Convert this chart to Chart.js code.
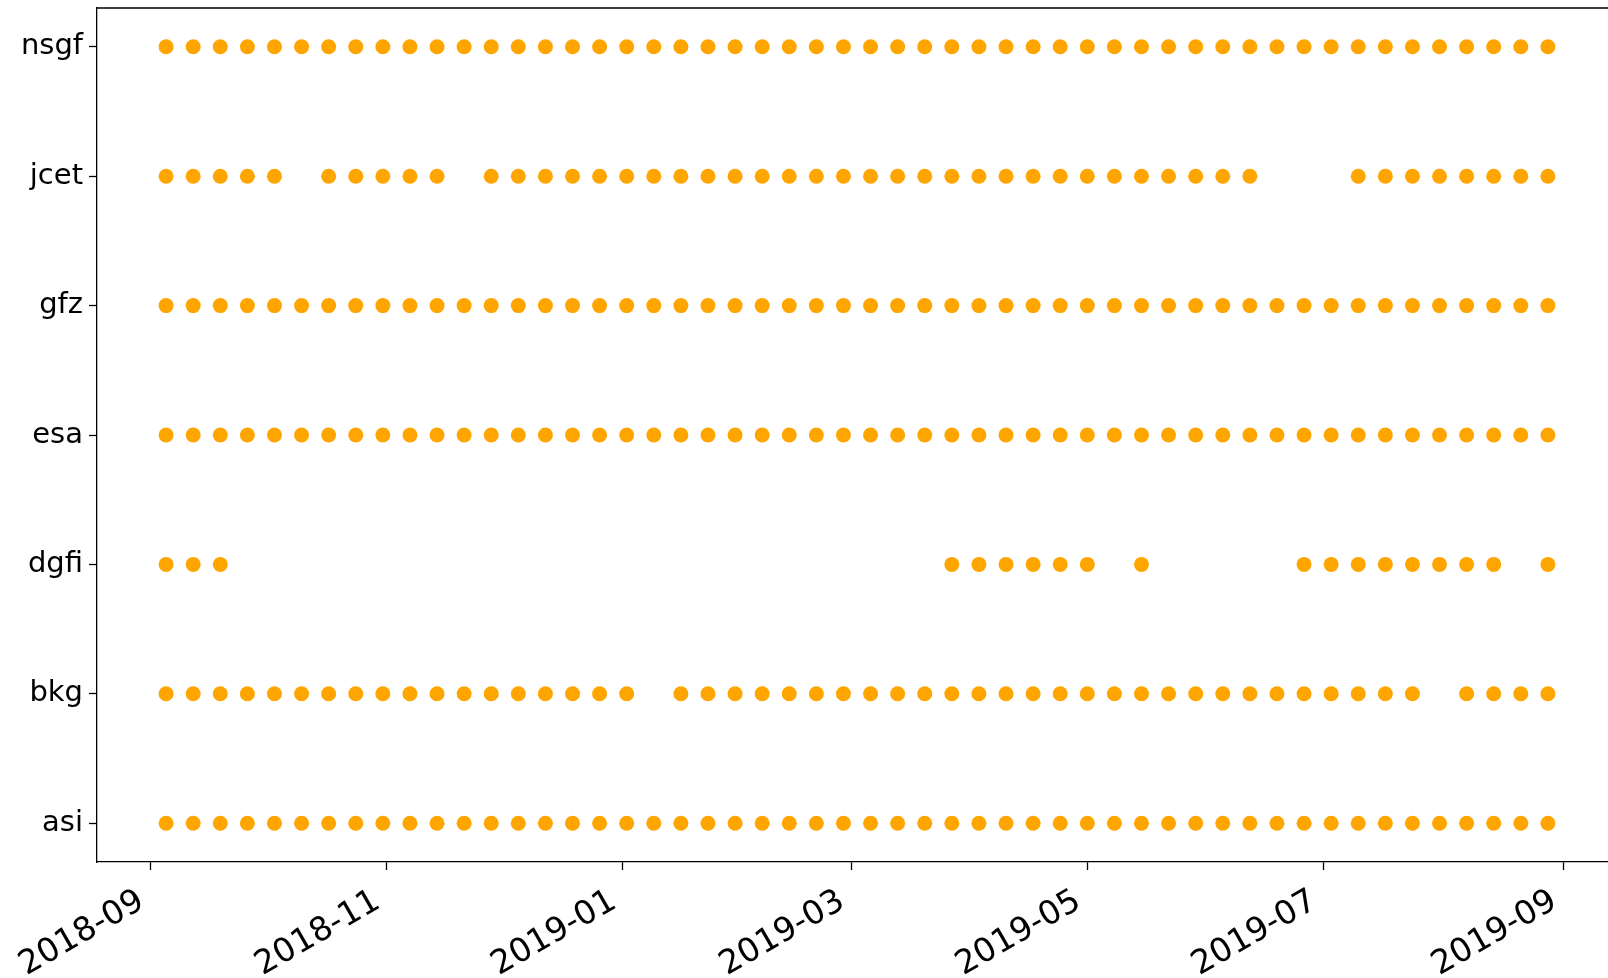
<!DOCTYPE html>
<html>
<head>
<meta charset="utf-8">
<script src="https://cdn.jsdelivr.net/npm/chart.js@4.4.0/dist/chart.umd.min.js"></script>
<style>
  html, body { margin: 0; padding: 0; background: #fff; overflow: hidden; }
  #wrap { width: 1630px; height: 978px; }
</style>
</head>
<body>
<div id="wrap"><canvas id="myChart" width="1630" height="978"></canvas></div>
<script>
// * Data
const categories = ["asi", "bkg", "dgfi", "esa", "gfz", "jcet", "nsgf"];

const weeks = [
  "2018-09-05", "2018-09-12", "2018-09-19", "2018-09-26", "2018-10-03", "2018-10-10",
  "2018-10-17", "2018-10-24", "2018-10-31", "2018-11-07", "2018-11-14", "2018-11-21",
  "2018-11-28", "2018-12-05", "2018-12-12", "2018-12-19", "2018-12-26", "2019-01-02",
  "2019-01-09", "2019-01-16", "2019-01-23", "2019-01-30", "2019-02-06", "2019-02-13",
  "2019-02-20", "2019-02-27", "2019-03-06", "2019-03-13", "2019-03-20", "2019-03-27",
  "2019-04-03", "2019-04-10", "2019-04-17", "2019-04-24", "2019-05-01", "2019-05-08",
  "2019-05-15", "2019-05-22", "2019-05-29", "2019-06-05", "2019-06-12", "2019-06-19",
  "2019-06-26", "2019-07-03", "2019-07-10", "2019-07-17", "2019-07-24", "2019-07-31",
  "2019-08-07", "2019-08-14", "2019-08-21", "2019-08-28",
];

// 1 = solution available that week
const asi  = [1,1,1,1,1,1,1,1,1,1,1,1,1,1,1,1,1,1,1,1,1,1,1,1,1,1,1,1,1,1,1,1,1,1,1,1,1,1,1,1,1,1,1,1,1,1,1,1,1,1,1,1];
const bkg  = [1,1,1,1,1,1,1,1,1,1,1,1,1,1,1,1,1,1,0,1,1,1,1,1,1,1,1,1,1,1,1,1,1,1,1,1,1,1,1,1,1,1,1,1,1,1,1,0,1,1,1,1];
const dgfi = [1,1,1,0,0,0,0,0,0,0,0,0,0,0,0,0,0,0,0,0,0,0,0,0,0,0,0,0,0,1,1,1,1,1,1,0,1,0,0,0,0,0,1,1,1,1,1,1,1,1,0,1];
const esa  = [1,1,1,1,1,1,1,1,1,1,1,1,1,1,1,1,1,1,1,1,1,1,1,1,1,1,1,1,1,1,1,1,1,1,1,1,1,1,1,1,1,1,1,1,1,1,1,1,1,1,1,1];
const gfz  = [1,1,1,1,1,1,1,1,1,1,1,1,1,1,1,1,1,1,1,1,1,1,1,1,1,1,1,1,1,1,1,1,1,1,1,1,1,1,1,1,1,1,1,1,1,1,1,1,1,1,1,1];
const jcet = [1,1,1,1,1,0,1,1,1,1,1,0,1,1,1,1,1,1,1,1,1,1,1,1,1,1,1,1,1,1,1,1,1,1,1,1,1,1,1,1,1,0,0,0,1,1,1,1,1,1,1,1];
const nsgf = [1,1,1,1,1,1,1,1,1,1,1,1,1,1,1,1,1,1,1,1,1,1,1,1,1,1,1,1,1,1,1,1,1,1,1,1,1,1,1,1,1,1,1,1,1,1,1,1,1,1,1,1];

const monthTicks = ["2018-09-01", "2018-11-01", "2019-01-01", "2019-03-01", "2019-05-01", "2019-07-01", "2019-09-01"];

// * Helpers
const DAY = 86400000;
function toDay(s) {
  return Date.parse(s + "T00:00:00Z") / DAY;
}
function dayLabel(d) {
  return new Date(d * DAY).toISOString().slice(0, 7);
}

const flags = [asi, bkg, dgfi, esa, gfz, jcet, nsgf];
const points = [];
flags.forEach((row, ci) => {
  row.forEach((f, wi) => {
    if (f) points.push({ x: toDay(weeks[wi]), y: ci });
  });
});

const firstDay = toDay(weeks[0]);
const lastDay = toDay(weeks[weeks.length - 1]);
const pad = (lastDay - firstDay) * 0.05;

// top edge of the axes box (right edge falls outside the window)
const frame = {
  id: "frame",
  afterDraw(chart) {
    const a = chart.chartArea;
    const c = chart.ctx;
    c.save();
    c.strokeStyle = "#000";
    c.lineWidth = 1.3;
    c.beginPath();
    c.moveTo(a.left, a.top);
    c.lineTo(a.right + 5, a.top);
    c.stroke();
    c.restore();
  },
};

const Canvas = document.getElementById("myChart").getContext("2d");

new Chart(Canvas, {
  type: "scatter",
  data: {
    datasets: [
      {
        data: points,
        backgroundColor: "#FFA500",
        borderWidth: 0,
        pointRadius: 7.5,
        pointHoverRadius: 7.5,
      },
    ],
  },
  options: {
    responsive: false,
    animation: false,
    layout: { padding: { top: 8, right: 13, left: 0, bottom: 0 } },
    plugins: {
      legend: { display: false },
      tooltip: { enabled: false },
    },
    scales: {
      x: {
        type: "linear",
        min: firstDay - pad,
        max: lastDay + pad,
        afterBuildTicks: (scale) => {
          scale.ticks = monthTicks.map((m) => ({ value: toDay(m) }));
        },
        afterFit: (scale) => {
          scale.height = 116;
          scale.paddingLeft = 0;
          scale.paddingRight = 0;
        },
        ticks: {
          autoSkip: false,
          minRotation: 30,
          maxRotation: 30,
          padding: 12,
          labelOffset: -9,
          color: "#000",
          font: { family: "DejaVu Sans", size: 33 },
          callback: (v) => dayLabel(v),
        },
        grid: {
          drawOnChartArea: false,
          drawTicks: true,
          tickLength: 8,
          tickWidth: 1.3,
          tickColor: "#000",
        },
        border: { display: true, color: "#000", width: 1.3 },
      },
      y: {
        type: "linear",
        min: -0.3,
        max: 6.3,
        afterBuildTicks: (scale) => {
          scale.ticks = categories.map((c, i) => ({ value: i }));
        },
        afterFit: (scale) => {
          scale.width = 97;
          scale.paddingTop = 0;
          scale.paddingBottom = 0;
        },
        ticks: {
          autoSkip: false,
          padding: 6,
          color: "#000",
          font: { family: "DejaVu Sans", size: 29 },
          callback: (v) => categories[v],
        },
        grid: {
          drawOnChartArea: false,
          drawTicks: true,
          tickLength: 8,
          tickWidth: 1.3,
          tickColor: "#000",
        },
        border: { display: true, color: "#000", width: 1.3 },
      },
    },
  },
  plugins: [frame],
});
</script>
</body>
</html>
